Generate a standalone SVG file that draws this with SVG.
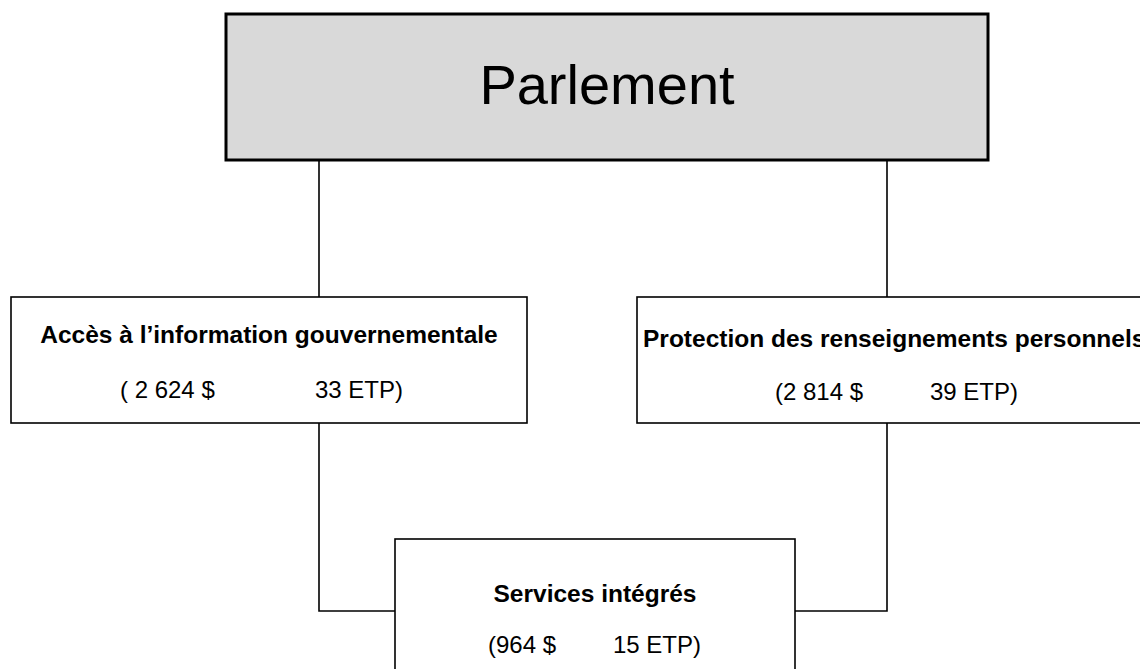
<svg xmlns="http://www.w3.org/2000/svg" width="1140" height="669" viewBox="0 0 1140 669">
<style>
.box{fill:#fff;stroke:#000;stroke-width:1.6}
.top{fill:#d9d9d9;stroke:#000;stroke-width:3}
.ln{fill:none;stroke:#000;stroke-width:1.6}
.t{font-family:"Liberation Sans",Arial,sans-serif;fill:#000}
.b{font-weight:bold;font-size:24.5px}
.r{font-size:24px}
</style>
<rect width="1140" height="669" fill="#fff"/>
<g id="connectors">
<path class="ln" d="M319,160V297M887,160V297M319,423V611H395M887,423V611H795"/>
</g>
<g id="parlement">
<rect class="top" x="226" y="14" width="762" height="146"/>
<text class="t" x="607" y="104" text-anchor="middle" font-size="56">Parlement</text>
</g>
<g id="acces">
<rect class="box" x="11" y="297" width="516" height="126"/>
<text class="t b" x="269" y="343" text-anchor="middle">Accès à l’information gouvernementale</text>
<text class="t r" x="120" y="398">( 2 624 $</text>
<text class="t r" x="315" y="398">33 ETP)</text>
</g>
<g id="protection">
<rect class="box" x="637" y="297" width="520" height="126"/>
<text class="t b" x="643" y="347">Protection des renseignements personnels</text>
<text class="t r" x="775" y="400">(2 814 $</text>
<text class="t r" x="930" y="400">39 ETP)</text>
</g>
<g id="services">
<rect class="box" x="395" y="539" width="400" height="140"/>
<text class="t b" x="595" y="602" text-anchor="middle">Services intégrés</text>
<text class="t r" x="488" y="653">(964 $</text>
<text class="t r" x="613" y="653">15 ETP)</text>
</g>
</svg>
